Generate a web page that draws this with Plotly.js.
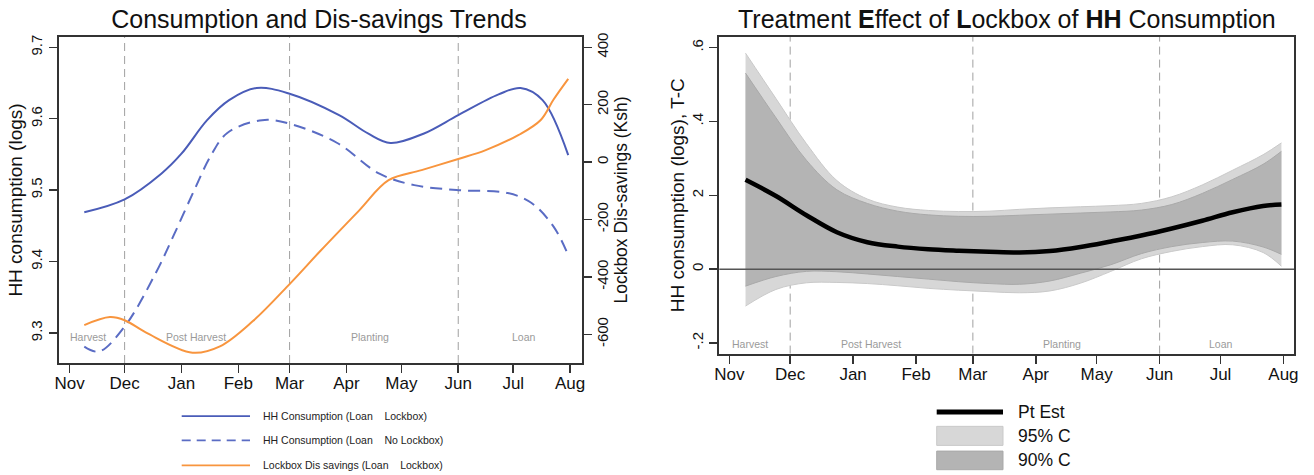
<!DOCTYPE html>
<html><head><meta charset="utf-8">
<script src="https://cdn.plot.ly/plotly-3.0.1.min.js"></script>
<style>html,body{margin:0;padding:0;background:#fff}#chart{width:1314px;height:475px}</style>
</head><body><div id="chart"></div>
<script>
// ---------- data ----------
const monthTicks = ["2010-11-01","2010-12-01","2011-01-01","2011-02-01","2011-03-01","2011-04-01","2011-05-01","2011-06-01","2011-07-01","2011-08-01"];
const monthLabels = ["Nov","Dec","Jan","Feb","Mar","Apr","May","Jun","Jul","Aug"];
const seasonBreaks = ["2010-12-01","2011-03-01","2011-06-01"];
const seasonNames = ["Harvest","Post Harvest","Planting","Loan"];
const seasonDatesLeft = ["2010-11-11","2011-01-09","2011-04-14","2011-07-07"];
const seasonDatesRight = ["2010-11-11","2011-01-10","2011-04-14","2011-07-01"];

const consYTicks = [9.3,9.4,9.5,9.6,9.7];
const consYLabels = ["9.3","9.4","9.5","9.6","9.7"];
const dissYTicks = [-600,-400,-200,0,200,400];
const dissYLabels = ["-600","-400","-200","0","200","400"];
const teYTicks = [-0.2,0,0.2,0.4,0.6];
const teYLabels = ["-.2","0","2",".4",".6"];

const seriesNames = ["HH Consumption (Loan\u00a0\u00a0\u00a0\u00a0Lockbox)","HH Consumption (Loan\u00a0\u00a0\u00a0\u00a0No Lockbox)","Lockbox Dis savings (Loan\u00a0\u00a0\u00a0\u00a0Lockbox)"];

const lockDates = ["2010-11-09","2010-12-01","2010-12-21","2011-01-01","2011-01-15","2011-01-27","2011-02-11","2011-03-01","2011-03-28","2011-04-13","2011-04-25","2011-05-13","2011-06-01","2011-06-23","2011-07-05","2011-07-17","2011-07-31"];
const lockCons = [9.469,9.487,9.523,9.551,9.598,9.626,9.643,9.635,9.605,9.579,9.566,9.579,9.605,9.634,9.643,9.626,9.549];

const noLockDates = ["2010-11-09","2010-11-17","2010-12-01","2010-12-18","2010-12-28","2011-01-08","2011-01-17","2011-01-26","2011-02-14","2011-03-01","2011-03-27","2011-04-19","2011-05-08","2011-06-01","2011-06-28","2011-07-11","2011-07-23","2011-07-31"];
const noLockCons = [9.281,9.274,9.309,9.384,9.438,9.500,9.548,9.580,9.598,9.593,9.566,9.523,9.507,9.500,9.496,9.482,9.449,9.409];

const dissDates = ["2010-11-09","2010-11-23","2010-12-01","2010-12-13","2011-01-07","2011-01-22","2011-02-09","2011-03-01","2011-03-18","2011-04-08","2011-04-24","2011-05-12","2011-06-01","2011-06-16","2011-07-04","2011-07-16","2011-07-23","2011-07-31"];
const dissSav = [-568,-540,-551,-595,-664,-642,-554,-425,-308,-168,-63,-28,11,42,95,147,218,290];

const teDates = ["2010-11-09","2010-11-24","2010-12-09","2010-12-24","2011-01-08","2011-01-23","2011-02-07","2011-02-22","2011-03-09","2011-03-24","2011-04-08","2011-04-23","2011-05-08","2011-05-23","2011-06-07","2011-06-22","2011-07-07","2011-07-22","2011-07-31"];
const ptEst = [0.242,0.198,0.146,0.100,0.073,0.061,0.054,0.050,0.047,0.045,0.049,0.060,0.075,0.091,0.110,0.131,0.154,0.171,0.175];
const up95 = [0.585,0.462,0.340,0.240,0.190,0.168,0.159,0.156,0.157,0.162,0.166,0.169,0.172,0.178,0.196,0.228,0.268,0.310,0.342];
const lo95 = [-0.100,-0.055,-0.037,-0.036,-0.039,-0.045,-0.052,-0.057,-0.061,-0.064,-0.059,-0.038,-0.006,0.028,0.048,0.061,0.066,0.045,0.008];
const up90 = [0.531,0.410,0.295,0.215,0.178,0.157,0.147,0.143,0.143,0.146,0.149,0.152,0.155,0.160,0.175,0.205,0.243,0.284,0.319];
const lo90 = [-0.046,-0.020,-0.006,-0.007,-0.013,-0.020,-0.027,-0.034,-0.039,-0.041,-0.032,-0.011,0.012,0.042,0.061,0.072,0.076,0.060,0.040];
const teLegend = ["Pt Est","95% C","90% C"];

// ---------- styling ----------
const FONT = "Liberation Sans, Arial, Helvetica, sans-serif";
const BLUE = "#4a5cb8", BLUE2 = "#5a6cc4", ORANGE = "#f8953e";
const W = 1314, H = 475, ML = 59, MR = 20, MT = 37, MB = 112.3;
const PW = W - ML - MR, PH = H - MT - MB;
const px = v => (v - ML) / PW;          // pixel -> paper x
const py = v => (H - MB - v) / PH;      // pixel -> paper y

const traces = [
  {x: lockDates, y: lockCons, name: seriesNames[0], type: "scatter", mode: "lines", xaxis: "x", yaxis: "y",
   line: {color: BLUE, width: 2, shape: "spline", smoothing: 1}},
  {x: noLockDates, y: noLockCons, name: seriesNames[1], type: "scatter", mode: "lines", xaxis: "x", yaxis: "y",
   line: {color: BLUE2, width: 2, dash: "12px,7px", shape: "spline", smoothing: 1}},
  {x: dissDates, y: dissSav, name: seriesNames[2], type: "scatter", mode: "lines", xaxis: "x", yaxis: "y2",
   line: {color: ORANGE, width: 2, shape: "spline", smoothing: 1}},
  {x: teDates, y: lo95, name: "lo95", type: "scatter", mode: "lines", xaxis: "x2", yaxis: "y3",
   line: {color: "#c9c9c9", width: 1, shape: "spline", smoothing: 1}, hoverinfo: "skip"},
  {x: teDates, y: up95, name: teLegend[1], type: "scatter", mode: "lines", xaxis: "x2", yaxis: "y3",
   fill: "tonexty", fillcolor: "#d7d7d7", line: {color: "#c9c9c9", width: 1, shape: "spline", smoothing: 1}},
  {x: teDates, y: lo90, name: "lo90", type: "scatter", mode: "lines", xaxis: "x2", yaxis: "y3",
   line: {color: "#a9a9a9", width: 1, shape: "spline", smoothing: 1}, hoverinfo: "skip"},
  {x: teDates, y: up90, name: teLegend[2], type: "scatter", mode: "lines", xaxis: "x2", yaxis: "y3",
   fill: "tonexty", fillcolor: "#b4b4b4", line: {color: "#a9a9a9", width: 1, shape: "spline", smoothing: 1}},
  {x: teDates, y: ptEst, name: teLegend[0], type: "scatter", mode: "lines", xaxis: "x2", yaxis: "y3",
   line: {color: "#000", width: 4.5, shape: "spline", smoothing: 1}}
];

const axisLine = {showline: true, linecolor: "#333", linewidth: 2, showgrid: false, zeroline: false,
  ticks: "outside", ticklen: 8, tickwidth: 1.5, tickcolor: "#333"};

const xBase = Object.assign({}, axisLine, {type: "date", tickmode: "array", tickvals: monthTicks, ticktext: monthLabels,
  mirror: true, ticklabelstandoff: -4, tickfont: {family: FONT, size: 17, color: "#111"}});

const layout = {
  width: W, height: H, showlegend: false,
  paper_bgcolor: "#fff", plot_bgcolor: "#fff",
  margin: {l: ML, r: MR, t: MT, b: MB},
  font: {family: FONT, color: "#111"},
  title: {text: "Consumption and Dis-savings Trends", x: 319 / W, xanchor: "center", y: 1 - 19 / H, yanchor: "middle",
          font: {family: FONT, size: 25, color: "#111"}},
  xaxis: Object.assign({}, xBase, {domain: [0, px(581.6)], anchor: "y", range: ["2010-10-26 05:00", "2011-08-07 07:00"]}),
  yaxis: Object.assign({}, axisLine, {domain: [0, 1], anchor: "x", range: [9.258, 9.7144], tickmode: "array",
    tickvals: consYTicks, ticktext: consYLabels, tickangle: -90, mirror: true, ticklabelstandoff: 1,
    tickfont: {family: FONT, size: 15, color: "#111"},
    title: {text: "HH consumption (logs)", font: {family: FONT, size: 19, color: "#111"}, standoff: 0}}),
  yaxis2: Object.assign({}, axisLine, {overlaying: "y", side: "right", anchor: "x", range: [-700, 436], tickmode: "array",
    tickvals: dissYTicks, ticktext: dissYLabels, tickangle: -90, ticklabelstandoff: -2,
    tickfont: {family: FONT, size: 15, color: "#111"},
    title: {text: "Lockbox Dis-savings (Ksh)", font: {family: FONT, size: 17.5, color: "#111"}, standoff: 0}}),
  xaxis2: Object.assign({}, xBase, {domain: [px(719.3), 1], anchor: "y3", range: ["2010-10-27 02:00", "2011-08-06 05:00"]}),
  yaxis3: Object.assign({}, axisLine, {domain: [py(353.3), 1], anchor: "x2", range: [-0.2287, 0.6287], tickmode: "array",
    tickvals: teYTicks, ticktext: teYLabels, tickangle: -90, mirror: true,
    tickfont: {family: FONT, size: 15, color: "#111"},
    title: {text: "HH consumption (logs), T-C", font: {family: FONT, size: 19, color: "#111"}, standoff: 0}}),
  shapes: [],
  annotations: []
};

// season dividers
seasonBreaks.forEach(d => {
  layout.shapes.push({type: "line", xref: "x", yref: "y domain", x0: d, x1: d, y0: 0, y1: 1, layer: "below",
    line: {color: "#a0a0a0", width: 1, dash: "8px,5px"}});
  layout.shapes.push({type: "line", xref: "x2", yref: "y3 domain", x0: d, x1: d, y0: 0, y1: 1, layer: "below",
    line: {color: "#a0a0a0", width: 1, dash: "8px,5px"}});
});
// zero reference line (right panel)
layout.shapes.push({type: "line", xref: "x2 domain", yref: "y3", x0: 0, x1: 1, y0: 0, y1: 0, layer: "above",
  line: {color: "#555", width: 1.5}});

// season labels
seasonNames.forEach((s, i) => {
  layout.annotations.push({text: s, x: seasonDatesLeft[i], y: 9.294, xref: "x", yref: "y", showarrow: false,
    font: {family: FONT, size: 10.5, color: "#9a9a9a"}, xanchor: "center", yanchor: "middle"});
  layout.annotations.push({text: s, x: seasonDatesRight[i], y: -0.202, xref: "x2", yref: "y3", showarrow: false,
    font: {family: FONT, size: 10.5, color: "#9a9a9a"}, xanchor: "center", yanchor: "middle"});
});

// right panel title
layout.annotations.push({text: "Treatment <b>E</b>ffect of <b>L</b>ockbox of <b>HH</b> Consumption", xref: "paper", yref: "paper",
  x: px(1007.5), y: py(19), xanchor: "center", yanchor: "middle", showarrow: false,
  font: {family: FONT, size: 25, color: "#111"}});

// left legend (drawn)
const legL = [{c: BLUE, dash: "solid", y: 415.7}, {c: BLUE2, dash: "9px,6px", y: 440}, {c: ORANGE, dash: "solid", y: 465}];
legL.forEach((it, i) => {
  layout.shapes.push({type: "line", xref: "paper", yref: "paper", x0: px(181.7), x1: px(250), y0: py(it.y), y1: py(it.y),
    line: {color: it.c, width: 1.8, dash: it.dash}});
  layout.annotations.push({text: seriesNames[i], xref: "paper", yref: "paper", x: px(261), y: py(it.y),
    xanchor: "left", yanchor: "middle", showarrow: false, font: {family: FONT, size: 10.5, color: "#222"}});
});

// right legend (drawn)
layout.shapes.push({type: "line", xref: "paper", yref: "paper", x0: px(936.7), x1: px(1003), y0: py(411.7), y1: py(411.7),
  line: {color: "#000", width: 5}});
layout.shapes.push({type: "rect", xref: "paper", yref: "paper", x0: px(936.7), x1: px(1003), y0: py(445), y1: py(426),
  fillcolor: "#d7d7d7", line: {color: "#c9c9c9", width: 1}});
layout.shapes.push({type: "rect", xref: "paper", yref: "paper", x0: px(936.7), x1: px(1003), y0: py(469.3), y1: py(450.7),
  fillcolor: "#b4b4b4", line: {color: "#a9a9a9", width: 1}});
[411.7, 435.7, 460].forEach((yy, i) => {
  layout.annotations.push({text: teLegend[i], xref: "paper", yref: "paper", x: px(1015.6), y: py(yy),
    xanchor: "left", yanchor: "middle", showarrow: false, font: {family: FONT, size: 17.5, color: "#111"}});
});

Plotly.newPlot("chart", traces, layout, {displayModeBar: false, staticPlot: true});
</script>
</body></html>
